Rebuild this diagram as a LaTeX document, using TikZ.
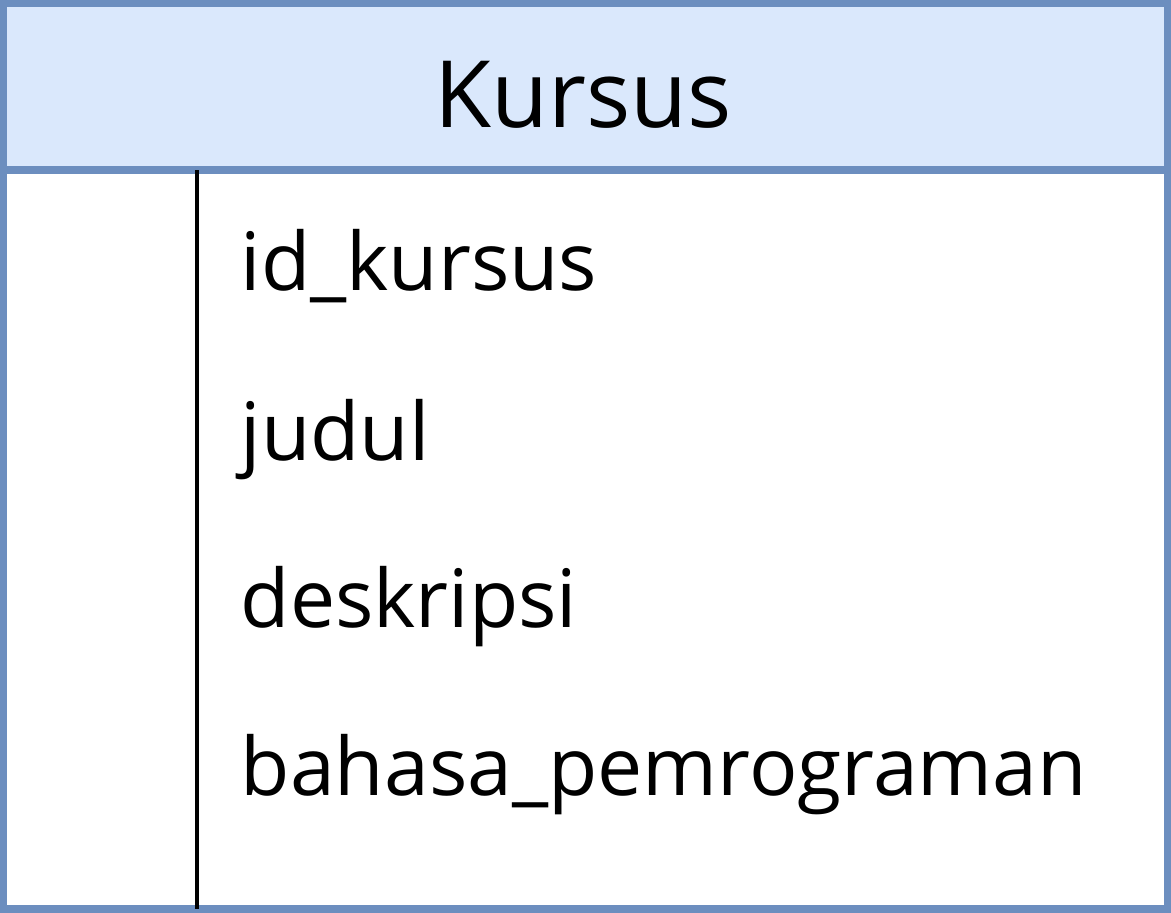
\documentclass[tikz,border=0pt]{standalone}
\usepackage{fontspec}
\setmainfont{Open Sans}
\usepackage{xcolor}
\definecolor{headfill}{HTML}{DAE8FC}
\definecolor{headline}{HTML}{6C8EBF}

\begin{document}
\begin{tikzpicture}[x=0.01cm, y=-0.01cm,
    field/.style={anchor=base west, inner sep=0pt, font=\fontsize{22.9}{27}\selectfont}]
  \useasboundingbox (0,0) rectangle (1171,912);

  % Header of the table
  \fill[headfill] (3,3) rectangle (1168,170);
  \draw[headline, line width=2.2pt] (3,3) rectangle (1168,909);
  \draw[headline, line width=2.2pt] (3,170) -- (1168,170);

  % Key column separator
  \draw[black, line width=1.2pt] (197,170) -- (197,909);

  \node[inner sep=0pt, font=\fontsize{26.4}{31}\selectfont] (title) at (583,95) {Kursus};

  % Fields
  \node[field] (idkursus) at (240,290) {id\_kursus};
  \node[field] (judul) at (240,460) {judul};
  \node[field] (deskripsi) at (240,627) {deskripsi};
  \node[field] (bahasa) at (240,795) {bahasa\_pemrograman};
\end{tikzpicture}
\end{document}
